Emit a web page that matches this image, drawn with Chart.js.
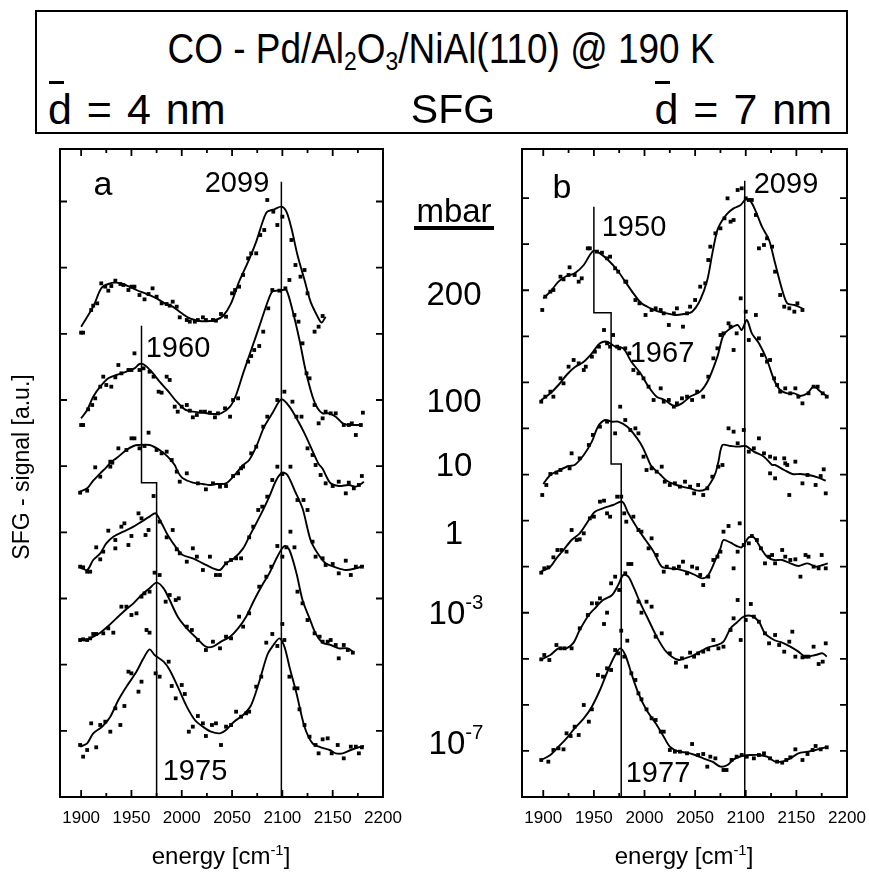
<!DOCTYPE html>
<html><head><meta charset="utf-8">
<script src="https://cdn.jsdelivr.net/npm/chart.js@4.4.1/dist/chart.umd.min.js"></script>
<style>
html,body{margin:0;padding:0;background:#fff}
body{width:869px;height:873px;position:relative;overflow:hidden;font-family:"Liberation Sans",Arial,sans-serif;color:#000}
canvas{position:absolute}
.t{position:absolute;white-space:nowrap;line-height:1;z-index:5}
.c{transform:translateX(-50%)}
#box{position:absolute;left:35px;top:10px;width:813px;height:124px;border:2px solid #000;box-sizing:border-box}
sub{font-size:0.62em;vertical-align:-0.28em;line-height:0}
sup{font-size:0.62em;vertical-align:0.62em;line-height:0}
.hi sup{vertical-align:0.75em}
.ob{position:relative;display:inline-block}
.ob::before{content:"";position:absolute;left:1px;width:15px;top:-7px;border-top:3px solid #000}
#ul{position:absolute;left:414px;top:226px;width:80px;height:4px;background:#000}
#ylab{position:absolute;left:-129px;top:455px;width:300px;height:24px;line-height:24px;text-align:center;font-size:23px;transform:rotate(-90deg);white-space:nowrap;z-index:5}
</style></head><body>
<div id="box"></div>
<div class="t c" style="left:441px;top:28px;font-size:42px;transform:translateX(-50%) scaleX(0.88)">CO - Pd/Al<sub>2</sub>O<sub>3</sub>/NiAl(110) @ 190 K</div>
<div class="t" style="left:48px;top:88px;font-size:43px;word-spacing:3px"><span class="ob">d</span> = 4 nm</div>
<div class="t c" style="left:453px;top:89px;font-size:41px">SFG</div>
<div class="t" style="right:37px;top:88px;font-size:43px;word-spacing:3px"><span class="ob">d</span> = 7 nm</div>

<canvas id="ca" width="420" height="733" style="left:0;top:140px"></canvas>
<canvas id="cb" width="420" height="733" style="left:462px;top:140px"></canvas>

<div class="t c" style="left:103px;top:166px;font-size:34px">a</div>
<div class="t c" style="left:237px;top:168px;font-size:29px">2099</div>
<div class="t c" style="left:178px;top:333px;font-size:29px">1960</div>
<div class="t c" style="left:195px;top:756px;font-size:29px">1975</div>
<div class="t c" style="left:562px;top:169px;font-size:34px">b</div>
<div class="t c" style="left:786px;top:169px;font-size:29px">2099</div>
<div class="t c" style="left:634px;top:212px;font-size:29px">1950</div>
<div class="t c" style="left:662px;top:338px;font-size:29px">1967</div>
<div class="t c" style="left:658px;top:758px;font-size:29px">1977</div>

<div class="t c" style="left:454px;top:194px;font-size:33px">mbar</div>
<div id="ul"></div>
<div class="t c" style="left:454px;top:277px;font-size:33px">200</div>
<div class="t c" style="left:454px;top:384px;font-size:33px">100</div>
<div class="t c" style="left:454px;top:448px;font-size:33px">10</div>
<div class="t c" style="left:454px;top:516px;font-size:33px">1</div>
<div class="t c hi" style="left:456px;top:596px;font-size:33px">10<sup>-3</sup></div>
<div class="t c hi" style="left:456px;top:726px;font-size:33px">10<sup>-7</sup></div>

<div id="ylab">SFG - signal [a.u.]</div>
<div class="t c" style="left:221px;top:844px;font-size:24px">energy [cm<sup>-1</sup>]</div>
<div class="t c" style="left:684px;top:844px;font-size:24px">energy [cm<sup>-1</sup>]</div>

<script>
const X_MIN = 1879, X_MAX = 2200, Y_MAX = 194.4;
const xTickLabels = [1900,1950,2000,2050,2100,2150,2200];
const xMinorTicks = [1900,1925,1950,1975,2000,2025,2050,2075,2100,2125,2150,2175];

// ---------- panel a (4 nm) ----------
const aLine200 = [[1900,141.1],[1912,147.1],[1920,152.6],[1927,153.9],[1935,154.3],[1944,153.6],[1955,152.1],[1965,150.9],[1975,149.6],[1983,148.1],[1991,147.1],[2000,145.1],[2008,143.6],[2018,142.8],[2028,142.8],[2034,143.1],[2041,144.3],[2049,148.1],[2057,154.6],[2066,160.6],[2074,166.6],[2081,173.1],[2085,175.6],[2092,176.3],[2099,177.1],[2104,175.6],[2109,170.6],[2115,162.6],[2122,155.1],[2128,148.6],[2135,144.1],[2139,142.3],[2143,144.1]];
const aPts200 = [[1900,139.3],[1902,139.3],[1910,146.1],[1912,147.4],[1916,148.1],[1920,154.1],[1924,153.1],[1927,151.9],[1930,153.3],[1934,154.9],[1939,153.9],[1942,153.6],[1947,152.1],[1950,153.1],[1953,153.1],[1958,150.6],[1963,149.3],[1967,150.9],[1971,152.6],[1975,150.1],[1980,148.1],[1985,147.9],[1988,147.4],[1991,148.6],[1995,147.1],[1998,143.9],[2005,143.1],[2008,142.6],[2013,142.6],[2016,143.1],[2021,143.9],[2024,143.1],[2031,143.1],[2034,142.9],[2039,144.9],[2044,144.1],[2050,151.1],[2053,152.1],[2057,153.1],[2061,156.6],[2066,161.6],[2069,163.1],[2074,163.1],[2078,168.6],[2082,170.1],[2085,179.1],[2091,175.6],[2095,171.6],[2100,174.1],[2109,167.1],[2113,159.6],[2118,156.1],[2122,158.1],[2125,151.1],[2132,139.6],[2136,141.1],[2140,144.3]];
const aLine100 = [[1900,113.6],[1906,116.1],[1912,120.1],[1919,123.1],[1927,125.6],[1935,126.6],[1945,127.6],[1953,128.6],[1958,129.9],[1963,129.6],[1970,127.6],[1978,124.6],[1986,121.9],[1995,118.6],[2003,116.3],[2011,115.6],[2021,115.3],[2031,114.9],[2039,115.1],[2048,117.1],[2054,120.6],[2061,127.1],[2069,134.1],[2077,141.1],[2086,149.1],[2090,151.6],[2095,151.9],[2100,152.1],[2104,152.1],[2110,146.1],[2117,137.1],[2123,128.1],[2130,120.1],[2135,116.6],[2140,115.1],[2146,115.1],[2153,114.1],[2160,112.1],[2166,111.6],[2175,111.6],[2179,111.6]];
const aPts100 = [[1900,111.6],[1902,111.6],[1907,116.3],[1911,117.6],[1914,119.6],[1919,123.1],[1922,126.1],[1925,123.6],[1930,123.1],[1934,125.9],[1937,129.6],[1940,127.1],[1947,128.1],[1950,128.1],[1953,133.1],[1958,128.1],[1962,128.6],[1968,127.6],[1972,126.1],[1977,121.6],[1980,121.3],[1985,126.1],[1988,125.1],[1993,117.1],[1996,115.6],[2000,117.1],[2005,117.6],[2008,115.9],[2011,113.9],[2015,114.6],[2019,115.6],[2023,115.6],[2028,115.3],[2033,113.9],[2036,115.1],[2043,116.6],[2048,114.1],[2051,119.1],[2056,119.6],[2066,130.6],[2069,132.3],[2072,134.1],[2077,135.3],[2081,139.6],[2086,146.6],[2090,152.1],[2097,151.9],[2103,152.6],[2107,155.1],[2112,144.6],[2116,142.6],[2120,136.1],[2124,127.1],[2127,125.6],[2132,117.6],[2136,112.1],[2140,113.6],[2143,115.6],[2148,115.1],[2153,115.1],[2161,111.6],[2166,111.6],[2169,112.1],[2173,108.6],[2178,111.6],[2180,115.3]];
const aLine10 = [[1899,91.6],[1906,92.6],[1912,94.9],[1919,97.1],[1925,98.9],[1930,100.6],[1935,101.6],[1945,104.1],[1952,105.3],[1957,105.6],[1968,105.6],[1978,104.1],[1986,102.1],[1993,99.6],[1996,97.6],[2001,95.6],[2011,94.3],[2021,93.9],[2028,93.6],[2034,93.9],[2044,94.1],[2054,97.1],[2061,99.6],[2067,101.1],[2074,105.1],[2082,111.1],[2090,115.1],[2099,119.3],[2107,117.1],[2115,113.1],[2122,109.1],[2131,103.1],[2136,99.9],[2140,98.5],[2143,96.6],[2148,94.1],[2156,93.3],[2166,93.6],[2173,93.1],[2178,93.9],[2181,94.6]];
const aPts10 = [[1899,91.3],[1906,91.9],[1914,98.9],[1919,96.1],[1929,99.1],[1931,100.3],[1929,100.6],[1937,104.6],[1945,104.1],[1950,107.6],[1953,107.6],[1958,104.6],[1963,105.3],[1967,109.3],[1975,104.1],[1980,103.1],[1985,103.6],[1990,101.1],[1995,97.6],[1998,94.6],[2005,97.1],[2016,94.1],[2024,92.3],[2031,94.1],[2038,93.1],[2044,93.3],[2051,96.3],[2056,97.1],[2059,98.6],[2061,99.1],[2069,103.1],[2074,105.1],[2081,111.1],[2085,114.1],[2095,119.1],[2102,121.6],[2110,118.6],[2114,114.1],[2119,114.1],[2125,104.6],[2130,102.6],[2133,99.6],[2138,96.6],[2143,94.1],[2150,93.3],[2156,94.6],[2163,91.1],[2166,94.3],[2171,92.6],[2176,93.6],[2179,96.3]];
const aLine1 = [[1899,68.9],[1906,68.1],[1912,71.1],[1919,73.1],[1925,76.1],[1932,78.1],[1942,79.6],[1952,81.1],[1960,82.6],[1968,84.1],[1974,85.1],[1980,82.1],[1986,78.6],[1995,74.6],[2001,72.6],[2011,71.6],[2021,70.1],[2031,68.6],[2038,68.1],[2044,70.1],[2052,71.6],[2061,74.6],[2067,78.1],[2074,82.1],[2080,85.6],[2087,90.1],[2094,95.1],[2100,97.3],[2105,96.6],[2112,92.1],[2120,86.6],[2128,77.1],[2135,73.1],[2143,70.1],[2153,68.9],[2163,68.1],[2173,68.6],[2181,69.3]];
const aPts1 = [[1899,69.1],[1902,68.9],[1906,67.6],[1909,67.6],[1915,74.9],[1919,71.3],[1922,73.6],[1927,79.9],[1934,77.1],[1934,74.6],[1940,81.1],[1943,82.1],[1947,75.6],[1950,78.3],[1957,85.1],[1960,83.6],[1964,78.6],[1967,80.1],[1972,90.3],[1978,82.6],[1985,77.9],[1991,80.1],[1995,74.3],[1998,73.1],[2005,70.6],[2011,74.6],[2015,72.1],[2021,68.1],[2028,72.1],[2034,66.6],[2038,66.6],[2044,70.1],[2049,71.1],[2054,71.6],[2059,71.6],[2067,77.9],[2071,81.1],[2076,86.1],[2080,87.1],[2085,90.1],[2090,95.1],[2095,99.1],[2100,96.9],[2108,99.1],[2108,79.6],[2115,89.1],[2121,89.1],[2125,86.1],[2130,76.6],[2133,72.1],[2140,71.6],[2143,69.6],[2150,69.9],[2156,67.1],[2163,70.9],[2168,66.6],[2173,69.1],[2179,69.1]];
const aLine1e3 = [[1899,47.1],[1906,47.1],[1912,48.1],[1919,49.3],[1927,51.3],[1935,53.6],[1944,56.1],[1952,58.1],[1960,60.6],[1968,62.6],[1975,64.3],[1982,62.6],[1988,59.1],[1996,54.1],[2005,50.6],[2015,47.6],[2024,45.1],[2031,45.1],[2039,46.6],[2048,48.1],[2056,50.6],[2064,54.1],[2072,59.1],[2081,64.1],[2087,67.1],[2095,72.1],[2102,75.3],[2107,74.1],[2114,67.1],[2120,59.1],[2127,53.6],[2133,49.1],[2140,46.3],[2148,45.6],[2156,44.6],[2165,44.6],[2170,43.6]];
const aPts1e3 = [[1899,47.1],[1902,47.3],[1906,47.1],[1909,47.6],[1912,48.9],[1915,48.9],[1922,49.1],[1927,50.6],[1932,49.3],[1940,57.1],[1945,57.1],[1950,54.6],[1955,55.1],[1960,60.1],[1963,61.1],[1968,61.6],[1973,67.3],[1978,66.6],[1984,58.6],[1988,60.6],[1994,59.1],[1997,59.6],[2005,51.1],[2010,50.1],[2016,47.1],[2024,44.1],[2031,46.6],[2038,44.6],[2044,48.1],[2049,47.6],[2057,54.1],[2061,51.1],[2067,55.1],[2077,63.1],[2084,66.1],[2089,69.1],[2095,75.3],[2100,72.1],[2104,74.9],[2112,74.9],[2115,61.6],[2120,58.1],[2125,53.1],[2132,49.1],[2137,48.1],[2140,46.6],[2145,46.6],[2148,47.1],[2153,45.6],[2156,41.6],[2161,45.6],[2165,44.1],[2170,43.3]];
const aLine1e7 = [[1899,15.1],[1906,16.1],[1912,19.1],[1921,21.1],[1929,24.1],[1937,29.1],[1945,33.1],[1954,37.1],[1962,41.6],[1968,44.3],[1973,42.6],[1982,40.6],[1988,38.1],[1996,33.1],[2005,27.1],[2013,23.1],[2021,21.1],[2029,19.6],[2038,19.1],[2044,20.1],[2052,22.6],[2061,24.6],[2069,27.6],[2077,34.6],[2085,42.6],[2090,45.1],[2097,47.6],[2102,45.1],[2107,39.1],[2114,31.1],[2122,21.1],[2130,16.1],[2138,14.9],[2147,14.1],[2153,13.1],[2160,13.1],[2168,14.1],[2178,15.1],[2181,15.3]];
const aPts1e7 = [[1899,15.6],[1902,12.1],[1906,14.1],[1910,22.1],[1915,14.9],[1919,21.6],[1924,22.6],[1929,19.6],[1934,26.6],[1939,21.6],[1943,27.3],[1947,37.6],[1950,37.1],[1957,31.6],[1960,34.6],[1965,50.1],[1968,49.3],[1974,37.1],[1978,36.1],[1987,40.6],[1990,33.3],[1994,29.6],[2000,33.6],[2003,30.9],[2007,19.6],[2011,21.1],[2016,24.3],[2021,22.1],[2024,18.3],[2030,21.6],[2034,22.1],[2039,15.6],[2044,21.1],[2049,21.6],[2054,25.6],[2059,24.1],[2064,25.1],[2067,25.6],[2074,33.1],[2079,36.1],[2084,46.3],[2090,48.9],[2095,45.3],[2100,51.9],[2102,47.1],[2107,36.1],[2112,32.6],[2115,32.6],[2117,26.3],[2122,21.6],[2127,18.1],[2133,15.6],[2136,13.1],[2140,17.3],[2145,17.6],[2149,13.1],[2155,15.6],[2161,11.6],[2168,15.1],[2173,15.1],[2176,13.1],[2179,14.9]];
const aMarkLow = [[1960,141.4],[1960,94.3],[1975,94.3],[1975,0]];
const aMarkHigh = [[2099,184.6],[2099,0]];

// ---------- panel b (7 nm) ----------
const bLine200 = [[1900,149.6],[1907,151.6],[1915,154.6],[1923,156.3],[1931,157.1],[1940,159.6],[1946,162.6],[1950,163.9],[1956,163.1],[1964,161.1],[1973,158.1],[1981,154.6],[1989,151.1],[1997,148.1],[2006,146.6],[2014,145.6],[2022,145.1],[2030,144.6],[2039,144.9],[2047,145.6],[2055,149.1],[2062,155.1],[2067,163.1],[2072,170.1],[2077,173.1],[2082,175.1],[2088,176.6],[2095,177.6],[2100,179.3],[2105,178.6],[2110,175.6],[2116,171.1],[2123,167.1],[2129,160.1],[2136,152.1],[2141,148.1],[2148,147.6],[2156,146.6]];
const bPts200 = [[1899,146.1],[1902,150.1],[1907,151.6],[1910,152.1],[1917,156.1],[1920,155.3],[1925,156.6],[1926,158.9],[1931,156.6],[1935,154.6],[1938,155.6],[1944,164.6],[1946,164.6],[1953,163.6],[1958,163.3],[1963,161.6],[1966,162.1],[1971,158.6],[1974,157.6],[1981,154.6],[1982,154.6],[1991,149.1],[1995,148.1],[2001,144.6],[2007,146.1],[2011,146.6],[2016,146.1],[2019,145.1],[2024,141.6],[2029,145.1],[2032,146.6],[2038,141.1],[2042,145.1],[2045,147.1],[2050,149.1],[2055,153.1],[2060,154.1],[2063,161.1],[2065,165.1],[2070,169.1],[2075,170.6],[2079,173.6],[2082,179.6],[2085,172.6],[2088,173.1],[2092,182.1],[2096,182.6],[2100,179.6],[2103,179.1],[2106,179.1],[2110,174.6],[2113,164.6],[2118,165.6],[2121,167.6],[2126,165.1],[2129,157.6],[2134,150.6],[2138,147.1],[2143,146.6],[2148,145.6],[2151,148.1],[2156,146.1]];
const bLine100 = [[1898,119.1],[1907,121.1],[1915,123.6],[1923,126.6],[1931,128.9],[1940,130.6],[1948,133.1],[1956,136.1],[1963,136.6],[1971,135.1],[1979,134.6],[1987,130.6],[1996,127.1],[2004,123.1],[2012,120.1],[2020,119.1],[2029,117.3],[2037,118.1],[2045,120.1],[2055,121.6],[2063,125.1],[2072,132.1],[2078,138.6],[2085,140.6],[2092,141.6],[2096,140.1],[2101,143.1],[2106,139.1],[2113,136.1],[2121,131.1],[2128,125.1],[2134,122.1],[2141,121.1],[2148,121.1],[2154,120.3],[2161,121.1],[2167,123.1],[2174,121.6],[2181,120.1]];
const bPts100 = [[1898,118.6],[1902,120.1],[1907,121.6],[1910,120.1],[1917,125.6],[1920,124.1],[1925,129.1],[1930,131.1],[1935,130.1],[1940,128.1],[1942,129.1],[1948,132.1],[1951,133.6],[1955,135.1],[1960,140.1],[1963,136.1],[1966,135.1],[1969,138.6],[1973,135.1],[1975,134.6],[1981,134.6],[1985,133.1],[1989,128.1],[1994,127.1],[1999,125.6],[2004,123.1],[2009,119.1],[2016,122.6],[2019,118.6],[2024,119.1],[2029,117.1],[2032,118.1],[2037,119.6],[2042,120.1],[2047,119.1],[2052,121.6],[2058,120.1],[2063,126.1],[2068,131.6],[2072,134.6],[2075,138.6],[2078,139.1],[2083,142.1],[2085,141.1],[2088,134.1],[2091,139.1],[2095,149.6],[2100,145.6],[2103,137.1],[2110,144.6],[2113,137.6],[2116,132.6],[2121,130.6],[2124,131.1],[2128,125.6],[2131,123.6],[2134,121.6],[2139,122.6],[2144,121.1],[2149,122.6],[2152,120.1],[2156,118.1],[2162,121.1],[2167,123.1],[2171,123.1],[2176,121.1],[2180,120.1]];
const bLine10 = [[1900,93.9],[1907,96.6],[1915,97.9],[1925,99.3],[1931,99.6],[1940,102.6],[1948,106.6],[1954,111.1],[1961,113.1],[1968,112.6],[1974,112.6],[1983,111.1],[1989,109.1],[1996,106.1],[2001,103.1],[2006,99.6],[2009,98.6],[2016,96.6],[2022,94.9],[2029,93.9],[2037,93.1],[2045,92.6],[2053,91.9],[2060,92.3],[2065,94.1],[2070,97.1],[2073,100.6],[2077,105.6],[2085,105.3],[2093,105.1],[2100,105.3],[2108,103.6],[2118,102.1],[2126,99.6],[2129,99.6],[2138,98.1],[2146,96.9],[2154,96.9],[2162,96.6],[2171,95.9],[2179,94.9]];
const bPts10 = [[1899,90.6],[1903,93.6],[1907,96.9],[1913,97.3],[1917,98.1],[1926,98.6],[1928,103.1],[1936,101.6],[1945,105.6],[1949,108.6],[1956,111.1],[1963,112.6],[1971,109.1],[1976,117.1],[1981,113.1],[1986,110.1],[1991,110.6],[1994,109.1],[1999,102.1],[2002,98.1],[2007,98.6],[2012,97.6],[2017,99.1],[2020,94.6],[2025,93.6],[2030,94.1],[2035,93.1],[2040,94.6],[2045,93.1],[2049,91.1],[2053,93.6],[2058,90.6],[2062,92.6],[2067,96.1],[2073,99.1],[2077,99.6],[2083,110.6],[2088,109.6],[2092,106.1],[2098,110.1],[2103,103.6],[2108,104.6],[2113,107.6],[2118,103.1],[2124,102.1],[2124,97.1],[2129,101.6],[2129,95.6],[2138,101.6],[2139,100.1],[2141,99.6],[2143,90.6],[2149,100.6],[2156,94.1],[2161,96.6],[2169,93.6],[2174,96.3],[2177,98.3],[2179,91.1]];
const bLine1 = [[1898,67.6],[1907,69.1],[1913,71.6],[1920,74.1],[1928,77.1],[1936,79.1],[1945,83.1],[1951,85.6],[1959,86.6],[1969,87.6],[1978,88.6],[1984,85.1],[1992,81.1],[2001,77.1],[2009,73.6],[2017,69.1],[2025,68.6],[2034,68.3],[2042,67.6],[2050,66.6],[2057,65.6],[2063,66.6],[2070,71.1],[2075,74.6],[2078,77.1],[2085,76.3],[2091,75.3],[2096,74.9],[2103,77.9],[2108,77.9],[2115,74.6],[2121,72.1],[2128,71.1],[2136,71.1],[2144,70.1],[2152,69.3],[2161,70.1],[2169,69.1],[2176,69.6],[2181,70.1]];
const bPts1 = [[1898,67.3],[1901,68.6],[1905,68.9],[1910,71.9],[1914,74.1],[1918,74.1],[1923,73.6],[1928,80.1],[1933,77.1],[1936,77.3],[1940,79.1],[1946,83.6],[1950,84.1],[1956,88.6],[1960,88.9],[1963,85.1],[1966,84.1],[1973,90.1],[1977,90.1],[1980,85.1],[1982,82.6],[1989,84.1],[1994,80.1],[1997,79.6],[2004,74.6],[2007,77.6],[2012,72.6],[2019,67.6],[2022,69.1],[2029,68.6],[2034,69.1],[2038,70.6],[2042,67.1],[2047,69.1],[2052,68.6],[2055,66.6],[2058,63.6],[2063,66.1],[2068,71.1],[2072,72.1],[2075,73.6],[2078,79.6],[2083,81.3],[2088,68.6],[2092,73.6],[2094,82.1],[2098,75.6],[2103,76.1],[2106,78.3],[2111,77.1],[2115,74.6],[2119,70.1],[2123,72.1],[2126,72.6],[2129,70.1],[2136,74.1],[2139,72.1],[2144,71.1],[2149,71.3],[2154,66.1],[2159,72.6],[2162,72.1],[2167,69.1],[2172,68.6],[2175,72.6],[2179,68.6]];
const bLine1e3 = [[1898,41.3],[1907,42.6],[1915,44.6],[1923,44.6],[1930,46.3],[1936,50.1],[1945,54.6],[1951,56.6],[1959,59.1],[1968,60.6],[1974,63.6],[1979,66.6],[1984,66.1],[1989,63.1],[1996,58.1],[2004,53.1],[2012,48.1],[2020,44.1],[2027,42.1],[2034,41.1],[2040,41.6],[2047,42.3],[2055,43.6],[2063,44.9],[2072,45.6],[2078,46.6],[2085,50.6],[2091,52.3],[2098,54.1],[2106,54.3],[2113,52.6],[2119,49.1],[2128,47.1],[2136,46.3],[2144,45.1],[2152,43.6],[2159,42.1],[2169,42.6],[2176,43.1],[2180,42.1]];
const bPts1e3 = [[1898,41.3],[1901,42.6],[1906,41.1],[1913,45.6],[1917,44.6],[1921,44.6],[1928,44.6],[1936,50.6],[1944,54.6],[1948,58.1],[1953,58.1],[1956,59.6],[1960,51.9],[1963,55.3],[1967,64.1],[1971,66.1],[1975,62.1],[1981,67.1],[1984,69.9],[1987,69.9],[1994,58.6],[1997,55.3],[2002,58.6],[2007,57.1],[2011,48.1],[2017,49.1],[2025,43.1],[2031,40.3],[2037,41.6],[2041,39.1],[2045,43.3],[2049,42.1],[2053,43.1],[2058,43.6],[2063,44.3],[2068,47.1],[2073,44.6],[2078,45.1],[2085,50.1],[2088,53.6],[2092,59.1],[2095,47.1],[2100,53.1],[2105,57.9],[2108,54.1],[2113,52.6],[2119,49.1],[2123,46.1],[2129,48.6],[2133,45.6],[2138,43.6],[2143,46.6],[2146,49.6],[2149,42.1],[2156,41.9],[2159,42.1],[2162,42.1],[2167,45.1],[2172,39.9],[2176,40.6],[2179,46.1]];
const bLine1e7 = [[1898,11.1],[1907,12.6],[1915,15.1],[1923,17.6],[1931,20.6],[1940,23.6],[1948,27.1],[1956,32.1],[1964,38.1],[1971,42.6],[1976,44.6],[1981,42.6],[1987,37.1],[1994,31.1],[2002,26.1],[2011,22.1],[2019,18.1],[2025,15.1],[2034,13.6],[2042,13.3],[2050,12.6],[2058,11.6],[2067,10.6],[2075,9.1],[2082,9.6],[2088,11.3],[2096,12.3],[2105,12.6],[2113,12.6],[2121,12.1],[2129,10.6],[2136,10.6],[2144,11.6],[2152,13.1],[2161,13.6],[2169,14.1],[2179,14.9]];
const bPts1e7 = [[1898,11.1],[1905,10.6],[1910,14.1],[1915,14.6],[1920,14.3],[1923,19.1],[1927,18.3],[1931,21.1],[1935,18.6],[1940,27.6],[1945,22.6],[1948,26.3],[1954,36.6],[1959,36.1],[1963,38.6],[1967,38.1],[1971,44.1],[1974,43.1],[1977,49.9],[1980,42.1],[1983,46.9],[1987,37.1],[1991,35.1],[1994,31.1],[1997,29.3],[2002,26.3],[2007,23.6],[2011,23.1],[2016,19.6],[2019,19.6],[2025,14.1],[2030,13.6],[2035,13.6],[2042,13.1],[2047,15.9],[2053,12.6],[2058,12.9],[2062,9.1],[2065,12.1],[2070,11.6],[2078,8.1],[2081,8.1],[2086,11.1],[2091,12.1],[2096,12.6],[2101,12.1],[2108,11.6],[2113,12.6],[2118,13.1],[2124,11.6],[2131,10.6],[2136,10.3],[2140,11.1],[2144,11.9],[2149,14.3],[2156,11.1],[2161,12.9],[2166,14.1],[2169,15.3],[2174,14.3],[2180,14.9]];
const bMarkLow = [[1950,177.1],[1950,145.3],[1967,145.3],[1967,99.9],[1977,99.9],[1977,0]];
const bMarkHigh = [[2099,184.9],[2099,0]];

const Y_TICK_A = 19.85, Y_TICKS_A = 9;
const Y_TICK_B = 13.82, Y_TICKS_B = 13;

const toXY = arr => arr.map(([x, y]) => ({x, y}));

const framePlugin = {
  id: 'frame',
  afterDatasetsDraw(chart, args, o) {
    const {ctx, chartArea: a, scales: {x, y}} = chart;
    ctx.save();
    ctx.strokeStyle = '#000';
    ctx.lineWidth = 1.8;
    ctx.beginPath();
    for (const v of xMinorTicks) {
      const px = x.getPixelForValue(v);
      const len = v % 50 === 0 ? 7 : 4;
      ctx.moveTo(px, a.bottom); ctx.lineTo(px, a.bottom - len);
      ctx.moveTo(px, a.top); ctx.lineTo(px, a.top + len);
    }
    for (let k = 1; k <= o.count; k++) {
      const py = y.getPixelForValue(k * o.step);
      ctx.moveTo(a.left, py); ctx.lineTo(a.left + 7, py);
      ctx.moveTo(a.right, py); ctx.lineTo(a.right - 7, py);
    }
    ctx.stroke();
    ctx.lineWidth = 2;
    ctx.strokeRect(a.left, a.top, a.right - a.left, a.bottom - a.top);
    ctx.restore();
  }
};

function makePanel(id, curves, marks, step, count, padRight) {
  const datasets = [];
  marks.forEach(m => datasets.push({data: toXY(m), showLine: true, tension: 0, borderColor: '#000', borderWidth: 1.5, pointRadius: 0}));
  curves.forEach(([line, pts]) => {
    datasets.push({data: toXY(line), showLine: true, tension: 0.3, borderColor: '#000', borderWidth: 1.9, pointRadius: 0});
    datasets.push({data: toXY(pts), showLine: false, pointStyle: 'rect', pointRadius: 2.7, backgroundColor: '#000', borderWidth: 0});
  });
  return new Chart(document.getElementById(id), {
    type: 'scatter',
    data: {datasets},
    options: {
      responsive: false, animation: false, events: [],
      layout: {padding: {left: 0, top: 9, right: padRight, bottom: 0}},
      plugins: {legend: {display: false}, tooltip: {enabled: false}, frame: {step, count}},
      scales: {
        x: {
          type: 'linear', min: X_MIN, max: X_MAX,
          afterBuildTicks: s => { s.ticks = xTickLabels.map(v => ({value: v})); },
          afterFit: s => { s.height = 76; },
          grid: {display: false, drawTicks: false}, border: {display: false},
          ticks: {color: '#000', font: {family: 'Liberation Sans', size: 17}, padding: 11, maxRotation: 0, autoSkip: false, callback: v => String(v)}
        },
        y: {
          type: 'linear', min: 0, max: Y_MAX,
          afterFit: s => { s.width = 60; },
          ticks: {display: false}, grid: {display: false}, border: {display: false}
        }
      }
    },
    plugins: [framePlugin]
  });
}

makePanel('ca', [[aLine200, aPts200], [aLine100, aPts100], [aLine10, aPts10], [aLine1, aPts1], [aLine1e3, aPts1e3], [aLine1e7, aPts1e7]], [aMarkLow, aMarkHigh], Y_TICK_A, Y_TICKS_A, 37);
makePanel('cb', [[bLine200, bPts200], [bLine100, bPts100], [bLine10, bPts10], [bLine1, bPts1], [bLine1e3, bPts1e3], [bLine1e7, bPts1e7]], [bMarkLow, bMarkHigh], Y_TICK_B, Y_TICKS_B, 35);
</script>
</body></html>
